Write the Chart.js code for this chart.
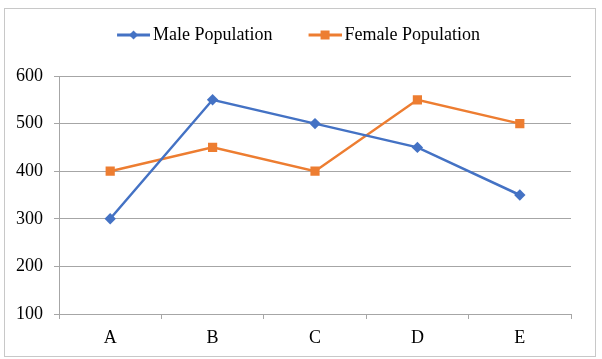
<!DOCTYPE html>
<html>
<head>
<meta charset="utf-8">
<script src="https://cdn.jsdelivr.net/npm/chart.js@4/dist/chart.umd.min.js"></script>
<style>
  html, body { margin: 0; padding: 0; background: #fff; }
  #wrap { position: relative; width: 602px; height: 359px; }
  #c { position: absolute; left: 0; top: 0; }
  #frame { position: absolute; left: 4px; top: 8px; width: 590px; height: 347px; border: 1px solid #c8c8c8; pointer-events: none; }
</style>
</head>
<body>
<div id="wrap">
  <canvas id="c" width="602" height="359"></canvas>
  <div id="frame"></div>
</div>
<script>
const categories = ['A', 'B', 'C', 'D', 'E'];
const malePopulation = [300, 550, 500, 450, 350];
const femalePopulation = [400, 450, 400, 550, 500];
const seriesNames = ['Male Population', 'Female Population'];
const yMin = 100, yMax = 600, yStep = 50, yLabelStep = 100;

const BLUE = '#4472C4';
const ORANGE = '#ED7D31';
const FONT = '"Liberation Serif", "Times New Roman", serif';

function legendIcon(color, shape) {
  const c = document.createElement('canvas');
  c.width = 65; c.height = 14;
  const g = c.getContext('2d');
  g.strokeStyle = color; g.lineWidth = 3;
  g.beginPath(); g.moveTo(32, 7); g.lineTo(65, 7); g.stroke();
  g.fillStyle = color;
  const cx = 48.5, cy = 7;
  g.beginPath();
  if (shape === 'diamond') {
    g.moveTo(cx - 4.5, cy); g.lineTo(cx, cy - 4.5); g.lineTo(cx + 4.5, cy); g.lineTo(cx, cy + 4.5);
  } else {
    g.rect(cx - 4.5, cy - 4.5, 9, 9);
  }
  g.closePath(); g.fill();
  return c;
}
const icons = [legendIcon(BLUE, 'diamond'), legendIcon(ORANGE, 'square')];

const fixLegend = {
  id: 'fixLegend',
  beforeLayout(chart) {
    const lg = chart.legend;
    if (lg && !lg._patched) {
      lg._patched = true;
      const origFit = lg.fit;
      lg.fit = function () { origFit.call(this); this.height = 60; };
    }
  }
};

new Chart(document.getElementById('c'), {
  type: 'line',
  data: {
    labels: categories,
    datasets: [
      {
        label: seriesNames[0], data: malePopulation,
        borderColor: BLUE, backgroundColor: BLUE, borderWidth: 2.5,
        pointStyle: 'rectRot', pointRadius: 5.7, pointHoverRadius: 5.7,
        pointBackgroundColor: BLUE, pointBorderWidth: 0, tension: 0
      },
      {
        label: seriesNames[1], data: femalePopulation,
        borderColor: ORANGE, backgroundColor: ORANGE, borderWidth: 2.5,
        pointStyle: 'rect', pointRadius: 6.5, pointHoverRadius: 6.5,
        pointBackgroundColor: ORANGE, pointBorderWidth: 0, tension: 0
      }
    ]
  },
  options: {
    responsive: false,
    animation: false,
    devicePixelRatio: 1,
    layout: { padding: { top: 16, right: 31, left: 0, bottom: 0 } },
    plugins: {
      tooltip: { enabled: false },
      legend: {
        position: 'top',
        labels: {
          usePointStyle: true,
          pointStyleWidth: 53,
          padding: 10,
          color: '#000',
          font: { family: FONT, size: 18 },
          generateLabels(chart) {
            const items = Chart.defaults.plugins.legend.labels.generateLabels(chart);
            items.forEach((it, i) => { it.pointStyle = icons[i]; });
            return items;
          }
        }
      }
    },
    scales: {
      x: {
        offset: true,
        grid: { offset: true, drawOnChartArea: false, drawTicks: true, tickLength: 5, color: '#a6a6a6' },
        border: { color: '#a6a6a6', width: 1 },
        ticks: { color: '#000', font: { family: FONT, size: 18 }, padding: 8 },
        afterFit(s) { s.height = 45; }
      },
      y: {
        min: yMin, max: yMax,
        grid: {
          color: (ctx) => (ctx.tick && ctx.tick.value % yLabelStep === 0) ? '#a6a6a6' : '#d9d9d9',
          tickColor: (ctx) => (ctx.tick && ctx.tick.value % yLabelStep === 0) ? '#a6a6a6' : 'rgba(0,0,0,0)',
          tickLength: 5, lineWidth: 1
        },
        border: { color: '#a6a6a6', width: 1 },
        ticks: {
          stepSize: yStep, color: '#000', padding: 11,
          font: { family: FONT, size: 18 },
          callback: (v) => (v % yLabelStep === 0 ? String(v) : '')
        },
        afterFit(s) { s.width = 59; }
      }
    }
  },
  plugins: [fixLegend]
});
</script>
</body>
</html>
